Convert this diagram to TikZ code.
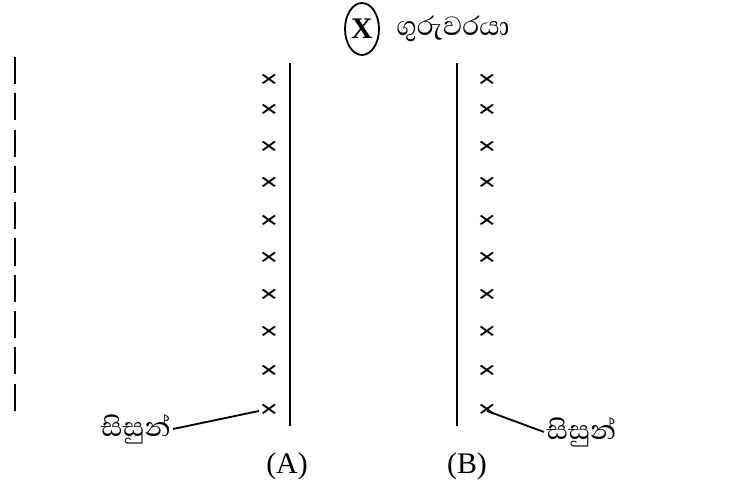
\documentclass[tikz,border=0pt]{standalone}
\usepackage{fontspec}
\usepackage{graphicx}
\setmainfont{Liberation Serif}
\newfontfamily\sinhala[Script=Sinhala]{Abhaya Libre}
\usetikzlibrary{shapes.geometric}

\begin{document}
\begin{tikzpicture}[x=0.5bp,y=-0.5bp,
  cross/.style={inner sep=0pt,font=\bfseries\fontsize{17}{17}\selectfont},
  lbl/.style={inner sep=1pt,font=\sinhala\fontsize{17}{19}\selectfont},
  row/.style={line width=1bp},
  ptr/.style={line width=0.9bp},
  every node/.style={font=\fontsize{15}{17}\selectfont}]
\useasboundingbox (0,0) rectangle (735,484);

% teacher
\node[draw,ellipse,line width=0.9bp,inner sep=0pt,minimum width=17bp,minimum height=26bp,font=\bfseries\fontsize{15}{15}\selectfont] (t) at (362,29) {X};
\node[lbl,anchor=west] (tl) at (394,29) {ගුරුවරයා};

% dashed line on the left
\coordinate (d1) at (15,57);
\coordinate (d2) at (15,412);
\draw[line width=1.3bp,dash pattern=on 13.5bp off 4.65bp] (d1) -- (d2);

% the two rows
\coordinate (a1) at (290,63);
\coordinate (a2) at (290,426);
\coordinate (b1) at (457,63);
\coordinate (b2) at (457,426);
\draw[row] (a1) -- (a2);
\draw[row] (b1) -- (b2);

\foreach \y [count=\i] in {81,111,148,184,222,259,296,333,372,411}{
  \node[cross] (ca\i) at (269,\y) {\scalebox{1}[0.72]{×}};
  \node[cross] (cb\i) at (487,\y) {\scalebox{1}[0.72]{×}};
}

% students
\node[lbl,anchor=east] (sl) at (173,429) {සිසුන්};
\node[lbl,anchor=west] (sr) at (544,432) {සිසුන්};
\draw[ptr] (sl.east) -- (ca10.west);
\draw[ptr] (sr.west) -- (cb10.center);

\node (la) at (287,466) {(A)};
\node (lb) at (467,466) {(B)};
\end{tikzpicture}
\end{document}
